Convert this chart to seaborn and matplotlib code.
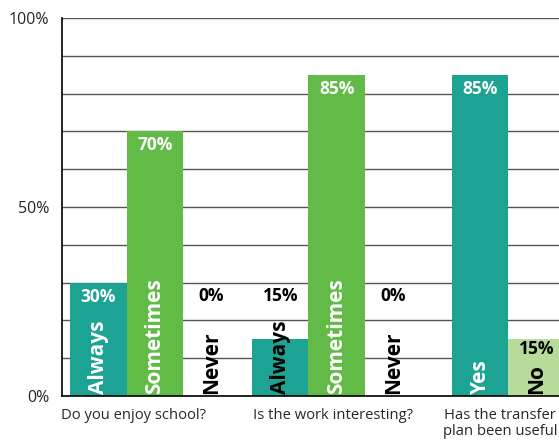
import pandas as pd
import matplotlib.pyplot as plt
import seaborn as sns

# data
questions = ["Do you enjoy school?", "Is the work interesting?", "Has the transfer\nplan been useful"]
q1_answers = ["Always", "Sometimes", "Never"]
q1_values = [30, 70, 0]
q2_answers = ["Always", "Sometimes", "Never"]
q2_values = [15, 85, 0]
q3_answers = ["Yes", "No"]
q3_values = [85, 15]
y_ticks = [0, 50, 100]

teal = "#1ca393"
green = "#63bb47"
light = "#b7dc99"
answer_colors = {"Always": teal, "Sometimes": green, "Never": teal, "Yes": teal, "No": light}

# layout: where each group starts (in bar widths) and where its label sits
group_start = [0, 3.22, 6.76]
label_start = [-0.16, 3.24, 6.60]

rows = []
for g, (answers, values) in enumerate([(q1_answers, q1_values), (q2_answers, q2_values), (q3_answers, q3_values)]):
    for i, (a, v) in enumerate(zip(answers, values)):
        rows.append({"question": questions[g], "answer": a, "value": v,
                     "pos": round(group_start[g] + i + 0.5, 3)})
df = pd.DataFrame(rows)

sns.set_style("white")
plt.rcParams["font.family"] = ["Open Sans", "DejaVu Sans"]

fig = plt.figure(figsize=(5.59, 4.44), dpi=100)
ax = fig.add_axes([62 / 559, 48 / 444, 497 / 559, 378 / 444])

sns.barplot(data=df, x="pos", y="value", hue="answer", palette=answer_colors,
            native_scale=True, width=1, errorbar=None, saturation=1,
            linewidth=0, legend=False, ax=ax, zorder=3)

ax.set_xlim(-0.142, 8.655)
ax.set_ylim(0, 100)
ax.set_yticks(y_ticks)
ax.set_yticklabels([f"{t}%" for t in y_ticks], fontsize=11.5)
ax.set_yticks(range(0, 101, 10), minor=True)
ax.grid(axis="y", which="both", color="#555555", linewidth=1, zorder=0)
ax.set_axisbelow(True)
ax.set_xticks([])
ax.set_xlabel("")
ax.set_ylabel("")
ax.tick_params(axis="y", which="both", length=0, pad=9)
for side in ["top", "right"]:
    ax.spines[side].set_visible(False)
for side in ["left", "bottom"]:
    ax.spines[side].set_color("black")
    ax.spines[side].set_linewidth(1.2)
    ax.spines[side].set_zorder(4)

# value labels and rotated answer names
for _, r in df.iterrows():
    v = r["value"]
    dark = answer_colors[r["answer"]] != light
    if v >= 25:
        ax.text(r["pos"], v - 3.7, f"{v}%", ha="center", va="center",
                color="white", fontsize=12.5, fontweight="bold", zorder=5)
    elif not dark:
        ax.text(r["pos"], v - 2.6, f"{v}%", ha="center", va="center",
                color="black", fontsize=12.5, fontweight="bold", zorder=5)
    else:
        ax.text(r["pos"], 26.4, f"{v}%", ha="center", va="center",
                color="black", fontsize=12.5, fontweight="bold", zorder=5)
    name_color = "white" if (dark and v >= 25) else "black"
    ax.text(r["pos"], 0.6, r["answer"], rotation=90, ha="center", va="bottom",
            color=name_color, fontsize=15, fontweight="bold", zorder=5)

# question labels under each group
for g, q in enumerate(questions):
    ax.text(label_start[g], -3.2, q, ha="left", va="top", fontsize=10.6,
            linespacing=1.1, multialignment="center", clip_on=False)

fig.savefig("out.png", dpi=100)
